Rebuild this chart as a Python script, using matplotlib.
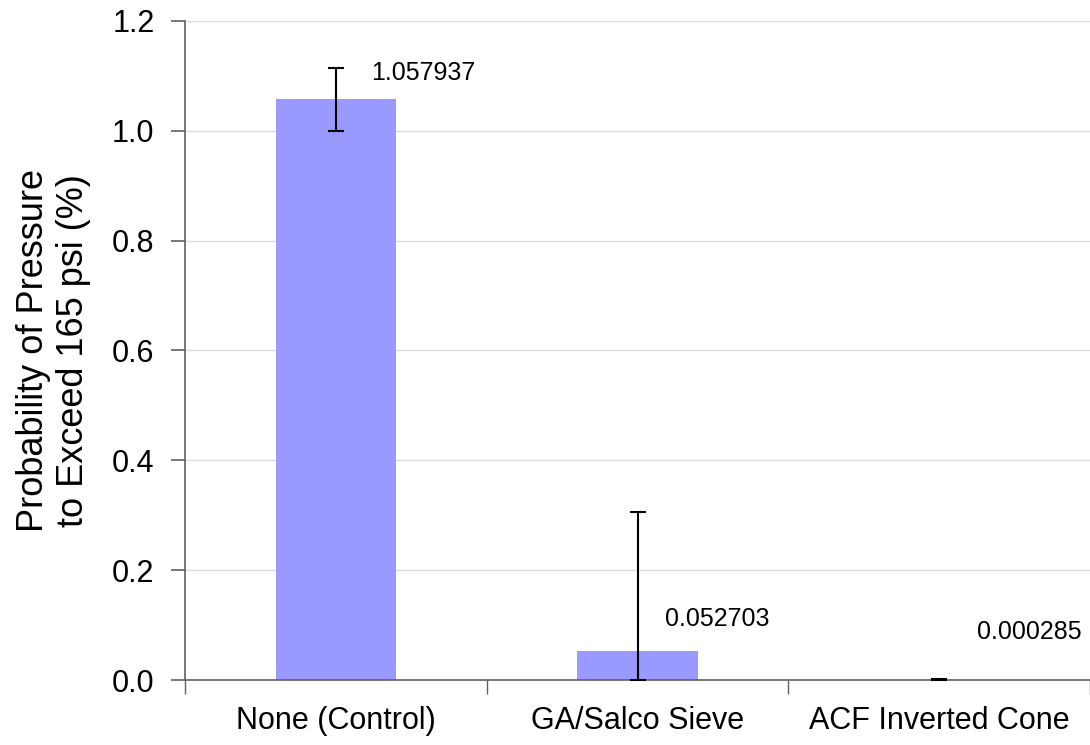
import matplotlib
matplotlib.use("Agg")
import matplotlib.pyplot as plt
import numpy as np

plt.rcParams['font.family'] = ['Liberation Sans', 'DejaVu Sans']

categories = ["None (Control)", "GA/Salco Sieve", "ACF Inverted Cone"]
values = [1.057937, 0.052703, 0.000285]
err_lower = [0.0579, 0.052703, 0.000285]
err_upper = [0.0570, 0.2540, 0.0008]
label_texts = ["1.057937", "0.052703", "0.000285"]
yticks = [0.0, 0.2, 0.4, 0.6, 0.8, 1.0, 1.2]

fig = plt.figure(figsize=(10.9, 7.45), dpi=100)
ax = fig.add_axes([185/1090, 65/745, 905/1090, 659/745])

x = np.arange(len(categories))
ax.bar(x, values, width=0.4, color='#9999FF', zorder=2)
ax.errorbar(x, values, yerr=[err_lower, err_upper], fmt='none', ecolor='black',
            elinewidth=1.5, capsize=5.8, capthick=1.5, zorder=3, clip_on=False)

offsets = [(87, 26), (80, 32), (90, 48)]
for xi, v, t, off in zip(x, values, label_texts, offsets):
    ax.annotate(t, xy=(xi, v), xytext=off, textcoords='offset pixels',
                ha='center', va='center', fontsize=18)

ax.set_xlim(-0.5, 2.5)
ax.set_ylim(0, 1.2)
ax.set_yticks(yticks)
ax.set_yticklabels([f"{t:.1f}" for t in yticks])
ax.yaxis.grid(True, color='#dcdcdc', linewidth=1, zorder=0)
ax.set_axisbelow(True)

ax.set_xticks(x)
ax.set_xticklabels(categories)
ax.set_xticks([-0.5, 0.5, 1.5, 2.5], minor=True)
ax.tick_params(axis='x', which='major', length=0, pad=19, labelsize=22)
ax.tick_params(axis='x', which='minor', length=10, width=1, color='#606060', direction='out')
ax.tick_params(axis='y', which='major', length=10, width=1.2, color='#606060', pad=12, labelsize=22)

for s in ['top', 'right']:
    ax.spines[s].set_visible(False)
for s in ['left', 'bottom']:
    ax.spines[s].set_color('#606060')
    ax.spines[s].set_linewidth(1.2)

ax.set_ylabel("Probability of Pressure\nto Exceed 165 psi (%)", fontsize=26, labelpad=15, linespacing=1.2)

fig.savefig("out.png", dpi=100)
